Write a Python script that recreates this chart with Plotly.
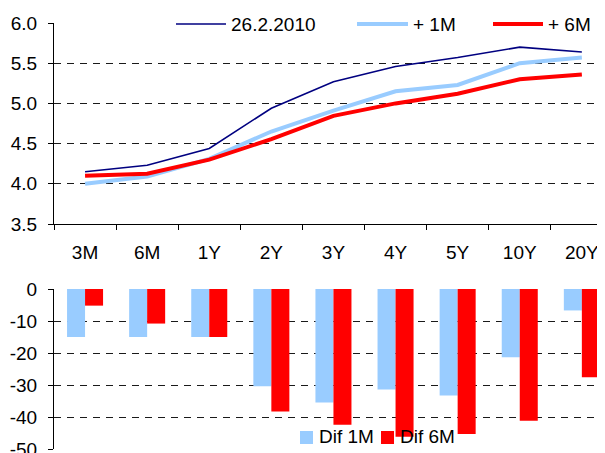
import plotly.graph_objects as go

# ---------------- data ----------------
categories = ["3M", "6M", "1Y", "2Y", "3Y", "4Y", "5Y", "10Y", "20Y"]

curve_base = [4.15, 4.23, 4.44, 4.94, 5.27, 5.46, 5.57, 5.70, 5.64]   # 26.2.2010
curve_1m = [4.00, 4.09, 4.31, 4.65, 4.91, 5.15, 5.23, 5.50, 5.57]     # + 1M
curve_6m = [4.10, 4.125, 4.30, 4.555, 4.845, 5.00, 5.12, 5.30, 5.36]  # + 6M

dif_1m = [-15, -15, -15, -30.4, -35.5, -31.4, -33.3, -21.3, -6.7]
dif_6m = [-5.2, -10.8, -15, -38.3, -42.4, -46.2, -45.3, -41.2, -27.6]

line_names = ["26.2.2010", "+ 1M", "+ 6M"]
bar_names = ["Dif 1M", "Dif 6M"]

top_tickvals = [3.5, 4.0, 4.5, 5.0, 5.5, 6.0]
top_ticktext = ["3.5", "4.0", "4.5", "5.0", "5.5", "6.0"]
bot_tickvals = [-50, -40, -30, -20, -10, 0]
bot_ticktext = ["-50", "-40", "-30", "-20", "-10", "0"]

# ---------------- styling ----------------
# the page body adds an 8px offset; layout is designed in screen pixels
OFF = 8
W, H = 605, 453
ML, MR, MT, MB = 54 - OFF, 0, 23 - OFF, H - (449 - OFF)
PW, PH = W - ML - MR, H - MT - MB
FONT = "Liberation Sans, Arial, sans-serif"
FS = 19
NAVY, LBLUE, RED = "#000080", "#99CCFF", "#FF0000"
GRID = "#1a1a1a"


def px_x(sx):
    return (sx - OFF - ML) / PW


def px_y(sy):
    return (H - MB - (sy - OFF)) / PH


top_domain = [px_y(224), 1.0]
bot_domain = [0.0, px_y(289)]
cat_w = 62.1
xrange_ = [-0.5, -0.5 + PW / cat_w]

fig = go.Figure()

line_colors = [NAVY, LBLUE, RED]
line_widths = [1.6, 4, 4]
for name, vals, c, w in zip(line_names, [curve_base, curve_1m, curve_6m], line_colors, line_widths):
    fig.add_trace(go.Scatter(x=categories, y=vals, name=name, mode="lines",
                             line=dict(color=c, width=w), xaxis="x", yaxis="y",
                             showlegend=False))

for name, vals, c in zip(bar_names, [dif_1m, dif_6m], [LBLUE, RED]):
    fig.add_trace(go.Bar(x=categories, y=vals, name=name, marker=dict(color=c, line=dict(width=0)),
                         xaxis="x2", yaxis="y2", showlegend=False))

fig.update_layout(
    template="none",
    width=W, height=H,
    margin=dict(l=ML, r=MR, t=MT, b=MB, pad=0, autoexpand=False),
    paper_bgcolor="white", plot_bgcolor="white",
    font=dict(family=FONT, size=FS, color="black"),
    barmode="group", bargap=0.42, bargroupgap=0,
    showlegend=False,
    xaxis=dict(domain=[0, 1], anchor="y", type="category", range=xrange_, automargin=False,
               showline=True, linecolor="black", linewidth=1,
               ticks="outside", ticklen=5, tickcolor="black", tickwidth=1, tickson="boundaries",
               ticklabelstandoff=11, showgrid=False, zeroline=False,
               tickfont=dict(size=FS)),
    yaxis=dict(domain=top_domain, anchor="x", range=[3.5, 6.0], automargin=False,
               tickvals=top_tickvals, ticktext=top_ticktext,
               showline=True, linecolor="black", linewidth=1,
               ticks="outside", ticklen=5, tickcolor="black", tickwidth=1,
               showgrid=True, gridcolor=GRID, griddash="7px,6px", gridwidth=1,
               zeroline=False, ticklabelstandoff=7),
    xaxis2=dict(domain=[0, 1], anchor="y2", type="category", range=xrange_, automargin=False,
                showline=False, ticks="", showticklabels=False,
                showgrid=False, zeroline=False),
    yaxis2=dict(domain=bot_domain, anchor="x2", range=[-50, 0], automargin=False,
                tickvals=bot_tickvals, ticktext=bot_ticktext,
                showline=True, linecolor="black", linewidth=1,
                ticks="outside", ticklen=5, tickcolor="black", tickwidth=1,
                showgrid=True, gridcolor=GRID, griddash="7px,6px", gridwidth=1,
                zeroline=False, ticklabelstandoff=7),
)

shapes = []
annotations = []

# ---- top legend (white box, line samples, labels) ----
shapes.append(dict(type="rect", xref="paper", yref="paper", layer="between",
                   x0=px_x(160), x1=px_x(620), y0=px_y(36), y1=px_y(12),
                   fillcolor="white", line=dict(width=0)))
leg_line_x = [(176, 226), (357, 408), (493, 543)]
for (x0, x1), name, c, w in zip(leg_line_x, line_names, line_colors, line_widths):
    shapes.append(dict(type="line", xref="paper", yref="paper", layer="above",
                       x0=px_x(x0), x1=px_x(x1), y0=px_y(24), y1=px_y(24),
                       line=dict(color=c, width=w)))
    annotations.append(dict(xref="paper", yref="paper", x=px_x(x1 + 4), y=px_y(24),
                            xanchor="left", yanchor="middle", text=name, showarrow=False,
                            borderpad=0, font=dict(family=FONT, size=FS, color="black")))

# ---- bottom legend ----
shapes.append(dict(type="rect", xref="paper", yref="paper", layer="between",
                   x0=px_x(293), x1=px_x(462), y0=px_y(453), y1=px_y(440),
                   fillcolor="white", line=dict(width=0)))
leg_sq_x = [(300, 313), (381, 394)]
for (x0, x1), name, c in zip(leg_sq_x, bar_names, [LBLUE, RED]):
    shapes.append(dict(type="rect", xref="paper", yref="paper", layer="above",
                       x0=px_x(x0), x1=px_x(x1), y0=px_y(444), y1=px_y(431),
                       fillcolor=c, line=dict(width=0)))
    annotations.append(dict(xref="paper", yref="paper", x=px_x(x1 + 5), y=px_y(436),
                            xanchor="left", yanchor="middle", text=name, showarrow=False,
                            borderpad=0, font=dict(family=FONT, size=FS, color="black")))

fig.update_layout(shapes=shapes, annotations=annotations)
fig.write_html("out.html")
